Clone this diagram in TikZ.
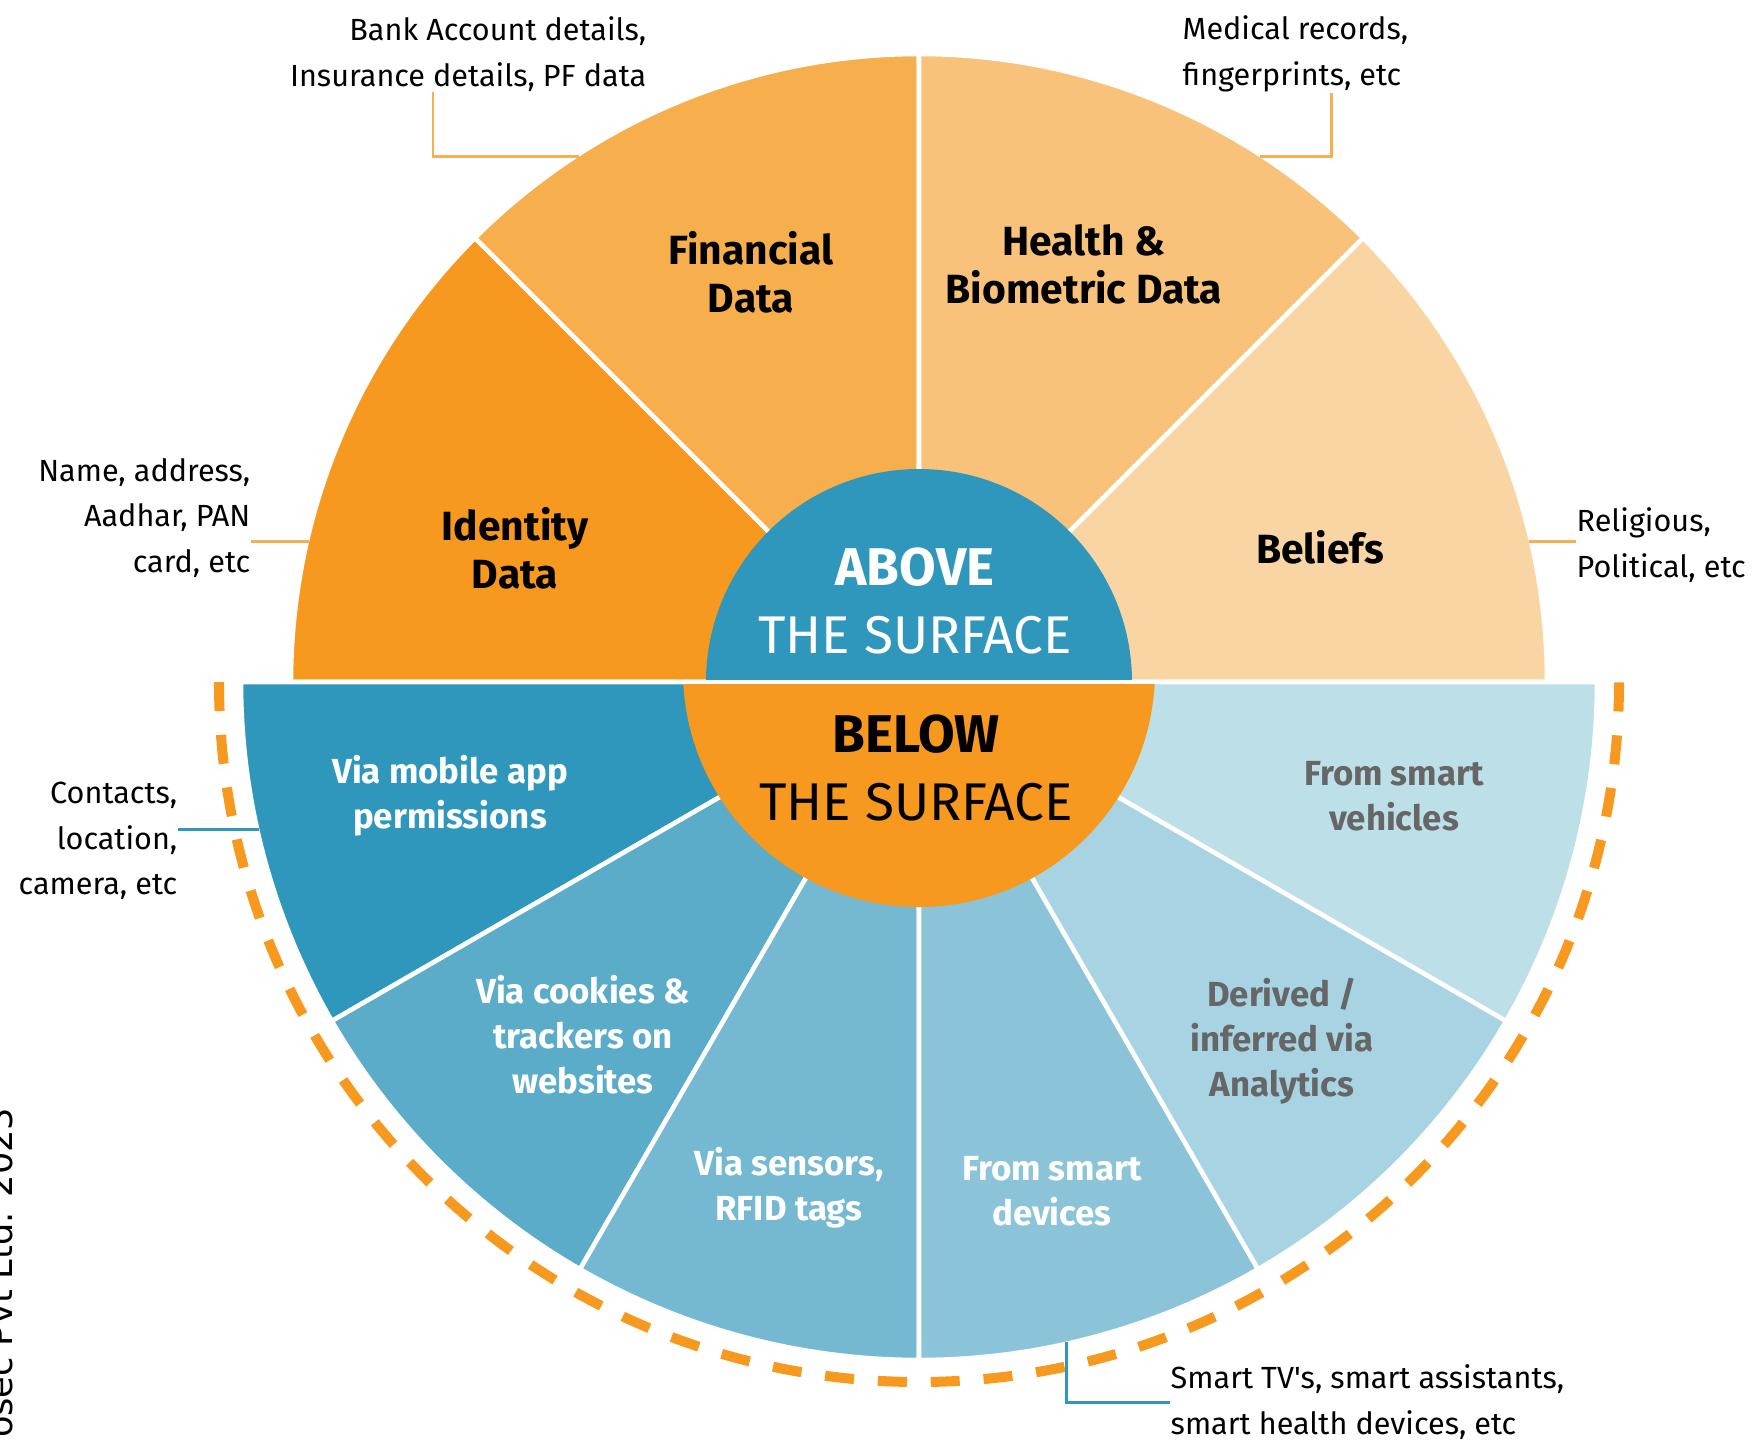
\documentclass[tikz,border=0pt]{standalone}
\usepackage{fontspec}
\setmainfont{Fira Sans}
\newfontfamily\credfont{DejaVu Sans}
\usetikzlibrary{calc}

\definecolor{idcol}{HTML}{F7991F}
\definecolor{fincol}{HTML}{F7AF4E}
\definecolor{healthcol}{HTML}{F9C27B}
\definecolor{beliefcol}{HTML}{FAD5A4}
\definecolor{appcol}{HTML}{2E97BB}
\definecolor{cookiecol}{HTML}{5BACC9}
\definecolor{sensorcol}{HTML}{74B9D1}
\definecolor{devicecol}{HTML}{8BC4D9}
\definecolor{derivedcol}{HTML}{A7D3E2}
\definecolor{vehiclecol}{HTML}{BDDFE8}
\definecolor{linecol}{HTML}{F8AF50}
\definecolor{greytext}{HTML}{666666}

\newcommand{\tick}{{\XeTeXglyph\XeTeXglyphindex "quotesingle"\relax}}

\begin{document}
\begin{tikzpicture}[x=0.01cm, y=0.01cm,
    every node/.style={font=\fontsize{8.7}{13}\selectfont, inner sep=0pt},
    sector/.style={draw=white, line width=1.3pt, line join=round},
    title/.style={align=center, font=\bfseries\fontsize{11.6}{13.7}\selectfont},
    source/.style={align=center, text=white, font=\bfseries\fontsize{9.9}{12.8}\selectfont},
    hub/.style={align=center, font=\fontsize{15.1}{19.4}\selectfont},
    orangeline/.style={draw=linecol, line width=0.85pt},
    blueline/.style={draw=appcol, line width=0.85pt}]
    \useasboundingbox (-919,-757) rectangle (833,682);

    \foreach \from/\to/\col in {135/180/idcol, 90/135/fincol, 45/90/healthcol, 0/45/beliefcol}
        \filldraw[sector, fill=\col] (0,0) -- (\from:628) arc (\from:\to:628) -- cycle;
    \foreach \from/\to/\col in {180/210/appcol, 210/240/cookiecol, 240/270/sensorcol, 270/300/devicecol, 300/330/derivedcol, 330/360/vehiclecol}
        \filldraw[sector, fill=\col] (0,0) -- (\from:678) arc (\from:\to:678) -- cycle;

    \fill[appcol] (213,0) arc (0:180:213) -- cycle;
    \begin{scope}
        \clip (-260,0) rectangle (260,-260);
        \fill[idcol] (0,11) circle (236);
    \end{scope}
    \draw[white, line width=1.3pt] (-240,0) -- (240,0);

    \draw[idcol, line width=2.85pt, dash pattern=on 8.25pt off 6.8pt] (180:700) arc (180:360:700);

    \node[title] (identity) at (-404,134) {Identity\\Data};
    \node[title] (financial) at (-168,410) {Financial\\Data};
    \node[title] (health) at (165,418) {Health \&\\Biometric Data};
    \node[title] (beliefs) at (401,135) {Beliefs};

    \node[hub, text=white] (above) at (-4,81) {\textbf{ABOVE}\\THE SURFACE};
    \node[hub] (below) at (-3,-86) {\textbf{BELOW}\\THE SURFACE};

    \node[source] (app) at (-469,-114) {Via mobile app\\permissions};
    \node[source] (cookies) at (-336,-353) {Via cookies \&\\trackers on\\websites};
    \node[source] (sensors) at (-130,-506) {Via sensors,\\RFID tags};
    \node[source] (devices) at (133,-509) {From smart\\devices};
    \node[source, text=greytext] (derived) at (363,-359) {Derived /\\inferred via\\Analytics};
    \node[source, text=greytext] (vehicles) at (475,-114) {From smart\\vehicles};

    \node[align=right, anchor=east] (banknote) at (-272,628) {Bank Account details,\\Insurance details, PF data};
    \node[align=left, anchor=west] (mednote) at (263,628) {Medical records,\\fingerprints, etc};
    \node[align=right, anchor=east] (namenote) at (-668,164) {Name, address,\\Aadhar, PAN\\card, etc};
    \node[align=left, anchor=west] (beliefnote) at (657,137) {Religious,\\Political, etc};
    \node[align=right, anchor=east] (appnote) at (-741,-159) {Contacts,\\location,\\camera, etc};
    \node[align=left, anchor=west] (tvnote) at (251,-720) {Smart TV\tick s, smart assistants,\\smart health devices, etc};

    \coordinate (bankpt) at (122.9:626);
    \coordinate (medpt) at (57:626);
    \coordinate (namept) at (167:626);
    \coordinate (beliefpt) at (13:626);
    \coordinate (apppt) at (192.6:676);
    \coordinate (tvpt) at (282.6:676);

    \draw[orangeline] (bankpt) -| ($(banknote.south east)+(-214,0)$);
    \draw[orangeline] (medpt) -| ($(mednote.south west)+(149,0)$);
    \draw[orangeline] (namept) -- (namept -| namenote.east);
    \draw[orangeline] (beliefpt) -- (beliefpt -| beliefnote.west);
    \draw[blueline] (apppt) -- (apppt -| appnote.east);
    \draw[blueline] (tvpt) |- (tvnote.west);

    \node[font=\credfont\fontsize{10}{12}\selectfont, rotate=90, anchor=base east] (credit) at (-906,-425) {osec Pvt Ltd. 2023};
\end{tikzpicture}
\end{document}
